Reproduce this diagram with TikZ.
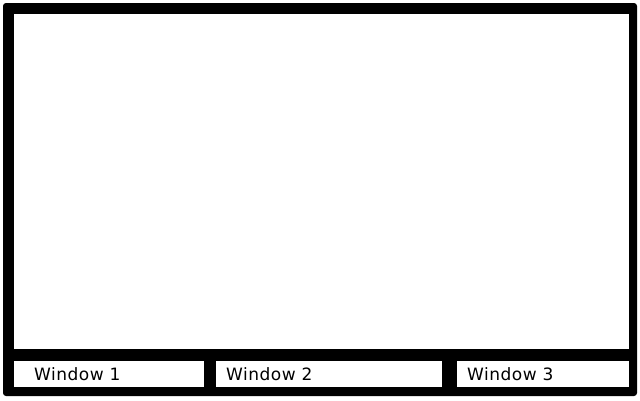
\documentclass[tikz,border=0pt]{standalone}
\usepackage{fontspec}
\setmainfont{DejaVu Sans}[LetterSpace=3]
\usepackage{tikz}

\begin{document}
\begin{tikzpicture}[x=1pt,y=-1pt,
    winbox/.style={fill=white,draw=none,anchor=north west,minimum height=26pt,inner sep=0pt},
    wintext/.style={anchor=base west,inner sep=0pt,font=\fontsize{17}{20}\selectfont}]

        \useasboundingbox (0,0) rectangle (640,400);
        % frame and main area
        \fill[black,rounded corners=3pt] (3,3) rectangle (637,396);
        \node[fill=white,anchor=north west,minimum width=615pt,minimum height=335pt,inner sep=0pt] (screen) at (14,14) {};

        % taskbar windows
        \node[winbox,minimum width=190pt] (win1) at (14,361) {};
        \node[winbox,minimum width=226pt] (win2) at (216,361) {};
        \node[winbox,minimum width=172pt] (win3) at (457,361) {};

        \node[wintext] (lbl1) at (34,380) {Window 1};
        \node[wintext] (lbl2) at (226,380) {Window 2};
        \node[wintext] (lbl3) at (467,380) {Window 3};
    \end{tikzpicture}
\end{document}
